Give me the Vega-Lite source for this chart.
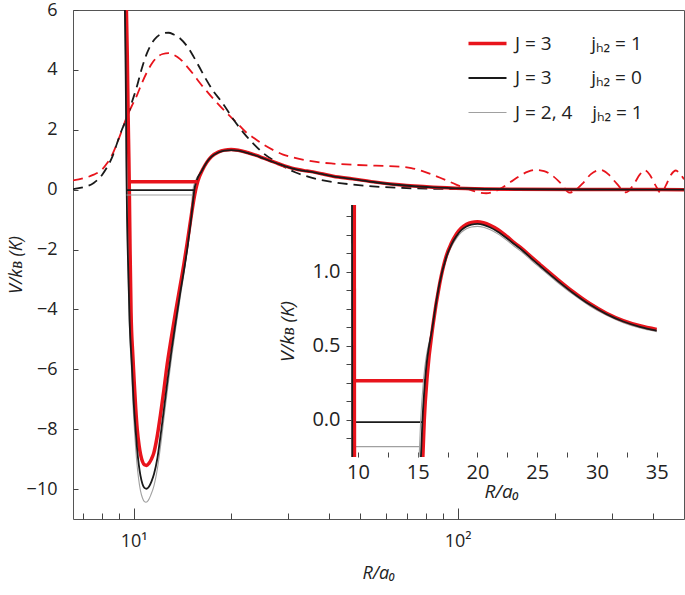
{
"$schema": "https://vega.github.io/schema/vega-lite/v6.json",
"width": 611, "height": 509,
"autosize": {"type": "none"},
"padding": {"left": 73, "top": 10, "right": 1, "bottom": 76},
"background": "white",
"config": {
  "view": {"stroke": "#555", "strokeWidth": 1},
  "font": "Open Sans",
  "axis": {"labelFont": "Open Sans", "titleFont": "Open Sans", "labelColor": "#222", "titleColor": "#222", "tickColor": "#444", "grid": false, "labelFontSize": 18, "titleFontSize": 18, "titleFontWeight": "normal", "titleFontStyle": "italic", "labelFlush": false, "labelOverlap": false, "domain": false}
},
"datasets": {
  "dash": [
    {"c":"a","R":6.5,"V":0.31},{"c":"a","R":7.0,"V":0.38},{"c":"a","R":7.53,"V":0.5},{"c":"a","R":8.0,"V":0.68},{"c":"a","R":8.28,"V":0.88},{"c":"a","R":8.6,"V":1.18},{"c":"a","R":8.89,"V":1.55},{"c":"a","R":9.2,"V":1.98},{"c":"a","R":9.54,"V":2.45},{"c":"a","R":9.9,"V":2.82},{"c":"a","R":10.24,"V":3.15},{"c":"a","R":10.6,"V":3.55},{"c":"a","R":10.99,"V":3.92},{"c":"a","R":11.4,"V":4.22},{"c":"a","R":11.8,"V":4.42},{"c":"a","R":12.3,"V":4.53},{"c":"a","R":12.82,"V":4.56},{"c":"a","R":13.3,"V":4.5},{"c":"a","R":13.92,"V":4.36},{"c":"a","R":14.6,"V":4.12},{"c":"a","R":15.3,"V":3.85},{"c":"a","R":16.0,"V":3.57},{"c":"a","R":16.81,"V":3.29},{"c":"a","R":17.6,"V":3.04},{"c":"a","R":18.49,"V":2.79},{"c":"a","R":19.4,"V":2.56},{"c":"a","R":20.31,"V":2.35},{"c":"a","R":21.3,"V":2.12},{"c":"a","R":22.32,"V":1.9},{"c":"a","R":23.7,"V":1.7},{"c":"a","R":25.12,"V":1.51},{"c":"a","R":27.0,"V":1.32},{"c":"a","R":28.94,"V":1.17},{"c":"a","R":31.5,"V":1.06},{"c":"a","R":34.14,"V":0.98},{"c":"a","R":37.5,"V":0.91},{"c":"a","R":41.25,"V":0.87},{"c":"a","R":47.5,"V":0.83},{"c":"a","R":56,"V":0.8},{"c":"a","R":66.3,"V":0.77},{"c":"a","R":72,"V":0.72},{"c":"a","R":78,"V":0.62},{"c":"a","R":85,"V":0.47},{"c":"a","R":92,"V":0.32},{"c":"a","R":99,"V":0.17},{"c":"a","R":106,"V":0.05},{"c":"a","R":114,"V":-0.07},{"c":"a","R":122.6,"V":-0.12},{"c":"a","R":130,"V":-0.06},{"c":"a","R":138,"V":0.08},{"c":"a","R":146,"V":0.26},{"c":"a","R":155,"V":0.45},{"c":"a","R":165,"V":0.6},{"c":"a","R":175,"V":0.66},{"c":"a","R":185,"V":0.62},{"c":"a","R":196,"V":0.47},{"c":"a","R":208,"V":0.22},{"c":"a","R":221.6,"V":-0.1},{"c":"a","R":232,"V":0.0},{"c":"a","R":244,"V":0.22},{"c":"a","R":258,"V":0.52},{"c":"a","R":277,"V":0.66},{"c":"a","R":293,"V":0.5},{"c":"a","R":310,"V":0.2},{"c":"a","R":331,"V":-0.09},{"c":"a","R":350,"V":0.18},{"c":"a","R":365,"V":0.5},{"c":"a","R":378,"V":0.65},{"c":"a","R":392,"V":0.5},{"c":"a","R":408,"V":0.15},{"c":"a","R":424.6,"V":-0.12},{"c":"a","R":440,"V":0.15},{"c":"a","R":456,"V":0.5},{"c":"a","R":472,"V":0.64},{"c":"a","R":488,"V":0.5},{"c":"a","R":500,"V":0.35},
    {"c":"b","R":6.5,"V":0.02},{"c":"b","R":7.0,"V":0.08},{"c":"b","R":7.53,"V":0.22},{"c":"b","R":8.0,"V":0.5},{"c":"b","R":8.28,"V":0.75},{"c":"b","R":8.6,"V":1.1},{"c":"b","R":8.89,"V":1.55},{"c":"b","R":9.2,"V":2.0},{"c":"b","R":9.54,"V":2.4},{"c":"b","R":9.9,"V":2.95},{"c":"b","R":10.24,"V":3.45},{"c":"b","R":10.6,"V":4.05},{"c":"b","R":10.99,"V":4.55},{"c":"b","R":11.4,"V":4.9},{"c":"b","R":11.8,"V":5.1},{"c":"b","R":12.3,"V":5.22},{"c":"b","R":12.82,"V":5.24},{"c":"b","R":13.3,"V":5.18},{"c":"b","R":13.92,"V":5.05},{"c":"b","R":14.6,"V":4.8},{"c":"b","R":15.3,"V":4.45},{"c":"b","R":16.0,"V":4.07},{"c":"b","R":16.81,"V":3.65},{"c":"b","R":17.6,"V":3.3},{"c":"b","R":18.49,"V":3.0},{"c":"b","R":19.4,"V":2.68},{"c":"b","R":20.31,"V":2.35},{"c":"b","R":21.3,"V":2.05},{"c":"b","R":22.32,"V":1.78},{"c":"b","R":23.7,"V":1.48},{"c":"b","R":25.12,"V":1.22},{"c":"b","R":27.0,"V":0.98},{"c":"b","R":28.94,"V":0.78},{"c":"b","R":31.5,"V":0.58},{"c":"b","R":34.14,"V":0.45},{"c":"b","R":37.5,"V":0.33},{"c":"b","R":41.25,"V":0.25},{"c":"b","R":47.5,"V":0.17},{"c":"b","R":56,"V":0.1},{"c":"b","R":66.3,"V":0.06},{"c":"b","R":80,"V":0.035},{"c":"b","R":94.6,"V":0.02},{"c":"b","R":130,"V":0.01},{"c":"b","R":200,"V":0.005},{"c":"b","R":500,"V":0.0}
  ],
  "sol": [
    {"c":"a","R":9.44,"V":7.0},{"c":"a","R":9.5,"V":6.0},{"c":"a","R":9.56,"V":4.5},{"c":"a","R":9.62,"V":2.4},{"c":"a","R":9.67,"V":1.0},{"c":"a","R":9.7,"V":0.0},{"c":"a","R":9.75,"V":-2.0},{"c":"a","R":9.82,"V":-4.1},{"c":"a","R":9.94,"V":-5.5},{"c":"a","R":10.04,"V":-6.4},{"c":"a","R":10.15,"V":-7.3},{"c":"a","R":10.26,"V":-8.0},{"c":"a","R":10.4,"V":-8.55},{"c":"a","R":10.51,"V":-8.85},{"c":"a","R":10.65,"V":-9.08},{"c":"a","R":10.8,"V":-9.19},{"c":"a","R":10.96,"V":-9.21},{"c":"a","R":11.15,"V":-9.14},{"c":"a","R":11.35,"V":-9.0},{"c":"a","R":11.54,"V":-8.8},{"c":"a","R":11.8,"V":-8.3},{"c":"a","R":12.11,"V":-7.5},{"c":"a","R":12.4,"V":-6.7},{"c":"a","R":12.69,"V":-5.85},{"c":"a","R":13.05,"V":-5.0},{"c":"a","R":13.47,"V":-4.1},{"c":"a","R":13.9,"V":-3.25},{"c":"a","R":14.29,"V":-2.5},{"c":"a","R":14.65,"V":-1.75},{"c":"a","R":14.98,"V":-1.05},{"c":"a","R":15.25,"V":-0.5},{"c":"a","R":15.55,"V":0.0},{"c":"a","R":15.8,"V":0.3},{"c":"a","R":16.28,"V":0.64},{"c":"a","R":16.84,"V":0.92},{"c":"a","R":17.4,"V":1.11},{"c":"a","R":18.24,"V":1.255},{"c":"a","R":19.08,"V":1.32},{"c":"a","R":20.0,"V":1.337},{"c":"a","R":21.03,"V":1.315},{"c":"a","R":22.43,"V":1.24},{"c":"a","R":23.82,"V":1.15},{"c":"a","R":25.22,"V":1.05},{"c":"a","R":26.61,"V":0.955},{"c":"a","R":28.0,"V":0.865},{"c":"a","R":29.4,"V":0.785},{"c":"a","R":30.8,"V":0.72},{"c":"a","R":32.2,"V":0.67},{"c":"a","R":33.6,"V":0.635},{"c":"a","R":35.0,"V":0.61},{"c":"a","R":38,"V":0.53},{"c":"a","R":41.3,"V":0.45},{"c":"a","R":47.5,"V":0.36},{"c":"a","R":55,"V":0.26},{"c":"a","R":66,"V":0.16},{"c":"a","R":84,"V":0.08},{"c":"a","R":106,"V":0.04},{"c":"a","R":150,"V":0.015},{"c":"a","R":250,"V":0.005},{"c":"a","R":500,"V":0.0},
    {"c":"b","R":9.36,"V":7.0},{"c":"b","R":9.4,"V":6.0},{"c":"b","R":9.44,"V":4.5},{"c":"b","R":9.48,"V":2.4},{"c":"b","R":9.5,"V":1.0},{"c":"b","R":9.52,"V":0.0},{"c":"b","R":9.6,"V":-2.2},{"c":"b","R":9.72,"V":-4.4},{"c":"b","R":9.88,"V":-5.9},{"c":"b","R":9.98,"V":-6.9},{"c":"b","R":10.12,"V":-7.9},{"c":"b","R":10.24,"V":-8.6},{"c":"b","R":10.38,"V":-9.2},{"c":"b","R":10.5,"V":-9.55},{"c":"b","R":10.65,"V":-9.83},{"c":"b","R":10.8,"V":-9.96},{"c":"b","R":10.96,"V":-9.99},{"c":"b","R":11.15,"V":-9.92},{"c":"b","R":11.35,"V":-9.75},{"c":"b","R":11.56,"V":-9.5},{"c":"b","R":11.85,"V":-8.95},{"c":"b","R":12.15,"V":-8.1},{"c":"b","R":12.45,"V":-7.2},{"c":"b","R":12.75,"V":-6.3},{"c":"b","R":13.1,"V":-5.35},{"c":"b","R":13.5,"V":-4.4},{"c":"b","R":13.95,"V":-3.4},{"c":"b","R":14.35,"V":-2.6},{"c":"b","R":14.7,"V":-1.85},{"c":"b","R":15.0,"V":-1.1},{"c":"b","R":15.2,"V":-0.55},{"c":"b","R":15.4,"V":0.0},{"c":"b","R":15.65,"V":0.3},{"c":"b","R":16.22,"V":0.62},{"c":"b","R":16.8,"V":0.91},{"c":"b","R":17.4,"V":1.1},{"c":"b","R":18.24,"V":1.24},{"c":"b","R":19.08,"V":1.305},{"c":"b","R":20.0,"V":1.322},{"c":"b","R":21.03,"V":1.3},{"c":"b","R":22.43,"V":1.228},{"c":"b","R":23.82,"V":1.14},{"c":"b","R":25.22,"V":1.04},{"c":"b","R":26.61,"V":0.945},{"c":"b","R":28.0,"V":0.857},{"c":"b","R":29.4,"V":0.778},{"c":"b","R":30.8,"V":0.714},{"c":"b","R":32.2,"V":0.664},{"c":"b","R":33.6,"V":0.628},{"c":"b","R":35.0,"V":0.603},{"c":"b","R":38,"V":0.523},{"c":"b","R":41.3,"V":0.445},{"c":"b","R":47.5,"V":0.355},{"c":"b","R":55,"V":0.255},{"c":"b","R":66,"V":0.155},{"c":"b","R":84,"V":0.078},{"c":"b","R":106,"V":0.038},{"c":"b","R":150,"V":0.014},{"c":"b","R":250,"V":0.005},{"c":"b","R":500,"V":0.0},
    {"c":"c","R":9.35,"V":7.0},{"c":"c","R":9.39,"V":6.0},{"c":"c","R":9.43,"V":4.5},{"c":"c","R":9.47,"V":2.4},{"c":"c","R":9.49,"V":1.0},{"c":"c","R":9.51,"V":0.0},{"c":"c","R":9.59,"V":-2.3},{"c":"c","R":9.71,"V":-4.6},{"c":"c","R":9.86,"V":-6.1},{"c":"c","R":9.96,"V":-7.2},{"c":"c","R":10.1,"V":-8.3},{"c":"c","R":10.22,"V":-9.05},{"c":"c","R":10.36,"V":-9.65},{"c":"c","R":10.5,"V":-10.05},{"c":"c","R":10.65,"V":-10.3},{"c":"c","R":10.8,"V":-10.42},{"c":"c","R":10.92,"V":-10.44},{"c":"c","R":11.1,"V":-10.38},{"c":"c","R":11.3,"V":-10.2},{"c":"c","R":11.55,"V":-9.9},{"c":"c","R":11.85,"V":-9.3},{"c":"c","R":12.15,"V":-8.45},{"c":"c","R":12.45,"V":-7.5},{"c":"c","R":12.75,"V":-6.6},{"c":"c","R":13.1,"V":-5.6},{"c":"c","R":13.5,"V":-4.6},{"c":"c","R":13.95,"V":-3.55},{"c":"c","R":14.35,"V":-2.7},{"c":"c","R":14.65,"V":-1.95},{"c":"c","R":14.9,"V":-1.2},{"c":"c","R":15.08,"V":-0.6},{"c":"c","R":15.25,"V":0.0},{"c":"c","R":15.5,"V":0.28},{"c":"c","R":16.15,"V":0.6},{"c":"c","R":16.76,"V":0.89},{"c":"c","R":17.4,"V":1.085},{"c":"c","R":18.24,"V":1.225},{"c":"c","R":19.08,"V":1.29},{"c":"c","R":20.0,"V":1.306},{"c":"c","R":21.03,"V":1.285},{"c":"c","R":22.43,"V":1.213},{"c":"c","R":23.82,"V":1.126},{"c":"c","R":25.22,"V":1.028},{"c":"c","R":26.61,"V":0.934},{"c":"c","R":28.0,"V":0.847},{"c":"c","R":29.4,"V":0.769},{"c":"c","R":30.8,"V":0.706},{"c":"c","R":32.2,"V":0.656},{"c":"c","R":33.6,"V":0.62},{"c":"c","R":35.0,"V":0.596},{"c":"c","R":38,"V":0.515},{"c":"c","R":41.3,"V":0.44},{"c":"c","R":47.5,"V":0.35},{"c":"c","R":55,"V":0.25},{"c":"c","R":66,"V":0.15},{"c":"c","R":84,"V":0.075},{"c":"c","R":106,"V":0.036},{"c":"c","R":150,"V":0.013},{"c":"c","R":250,"V":0.005},{"c":"c","R":500,"V":0.0}
  ],
  "lev": [
    {"c":"a","R1":9.72,"R2":15.77,"V":0.265},
    {"c":"b","R1":9.52,"R2":15.39,"V":-0.015},
    {"c":"c","R1":9.51,"R2":15.19,"V":-0.18}
  ],
  "ins": [
    {"c":"a","s":1,"R":9.695,"V":1.45},{"c":"a","s":1,"R":9.705,"V":-0.25},
    {"c":"a","s":2,"R":15.43,"V":-0.25},{"c":"a","s":2,"R":15.55,"V":0.0},{"c":"a","s":2,"R":15.8,"V":0.3},{"c":"a","s":2,"R":16.28,"V":0.64},{"c":"a","s":2,"R":16.84,"V":0.92},{"c":"a","s":2,"R":17.4,"V":1.11},{"c":"a","s":2,"R":17.8,"V":1.19},{"c":"a","s":2,"R":18.24,"V":1.255},{"c":"a","s":2,"R":18.65,"V":1.295},{"c":"a","s":2,"R":19.08,"V":1.32},{"c":"a","s":2,"R":19.5,"V":1.333},{"c":"a","s":2,"R":20.0,"V":1.337},{"c":"a","s":2,"R":20.5,"V":1.33},{"c":"a","s":2,"R":21.03,"V":1.315},{"c":"a","s":2,"R":21.7,"V":1.285},{"c":"a","s":2,"R":22.43,"V":1.24},{"c":"a","s":2,"R":23.1,"V":1.195},{"c":"a","s":2,"R":23.82,"V":1.15},{"c":"a","s":2,"R":24.5,"V":1.1},{"c":"a","s":2,"R":25.22,"V":1.05},{"c":"a","s":2,"R":26.61,"V":0.955},{"c":"a","s":2,"R":28.0,"V":0.865},{"c":"a","s":2,"R":29.4,"V":0.785},{"c":"a","s":2,"R":30.8,"V":0.72},{"c":"a","s":2,"R":32.2,"V":0.67},{"c":"a","s":2,"R":33.6,"V":0.635},{"c":"a","s":2,"R":35.0,"V":0.61},
    {"c":"b","s":1,"R":9.505,"V":1.45},{"c":"b","s":1,"R":9.52,"V":-0.25},
    {"c":"b","s":2,"R":15.27,"V":-0.25},{"c":"b","s":2,"R":15.4,"V":0.0},{"c":"b","s":2,"R":15.65,"V":0.3},{"c":"b","s":2,"R":16.22,"V":0.62},{"c":"b","s":2,"R":16.8,"V":0.91},{"c":"b","s":2,"R":17.4,"V":1.1},{"c":"b","s":2,"R":17.8,"V":1.18},{"c":"b","s":2,"R":18.24,"V":1.24},{"c":"b","s":2,"R":18.65,"V":1.28},{"c":"b","s":2,"R":19.08,"V":1.305},{"c":"b","s":2,"R":19.5,"V":1.318},{"c":"b","s":2,"R":20.0,"V":1.322},{"c":"b","s":2,"R":20.5,"V":1.316},{"c":"b","s":2,"R":21.03,"V":1.3},{"c":"b","s":2,"R":21.7,"V":1.27},{"c":"b","s":2,"R":22.43,"V":1.228},{"c":"b","s":2,"R":23.1,"V":1.185},{"c":"b","s":2,"R":23.82,"V":1.14},{"c":"b","s":2,"R":24.5,"V":1.09},{"c":"b","s":2,"R":25.22,"V":1.04},{"c":"b","s":2,"R":26.61,"V":0.945},{"c":"b","s":2,"R":28.0,"V":0.857},{"c":"b","s":2,"R":29.4,"V":0.778},{"c":"b","s":2,"R":30.8,"V":0.714},{"c":"b","s":2,"R":32.2,"V":0.664},{"c":"b","s":2,"R":33.6,"V":0.628},{"c":"b","s":2,"R":35.0,"V":0.603},
    {"c":"c","s":1,"R":9.5,"V":1.45},{"c":"c","s":1,"R":9.51,"V":-0.25},
    {"c":"c","s":2,"R":15.12,"V":-0.25},{"c":"c","s":2,"R":15.25,"V":0.0},{"c":"c","s":2,"R":15.5,"V":0.28},{"c":"c","s":2,"R":16.15,"V":0.6},{"c":"c","s":2,"R":16.76,"V":0.89},{"c":"c","s":2,"R":17.4,"V":1.085},{"c":"c","s":2,"R":17.8,"V":1.165},{"c":"c","s":2,"R":18.24,"V":1.225},{"c":"c","s":2,"R":18.65,"V":1.265},{"c":"c","s":2,"R":19.08,"V":1.29},{"c":"c","s":2,"R":19.5,"V":1.302},{"c":"c","s":2,"R":20.0,"V":1.306},{"c":"c","s":2,"R":20.5,"V":1.3},{"c":"c","s":2,"R":21.03,"V":1.285},{"c":"c","s":2,"R":21.7,"V":1.255},{"c":"c","s":2,"R":22.43,"V":1.213},{"c":"c","s":2,"R":23.1,"V":1.17},{"c":"c","s":2,"R":23.82,"V":1.126},{"c":"c","s":2,"R":24.5,"V":1.077},{"c":"c","s":2,"R":25.22,"V":1.028},{"c":"c","s":2,"R":26.61,"V":0.934},{"c":"c","s":2,"R":28.0,"V":0.847},{"c":"c","s":2,"R":29.4,"V":0.769},{"c":"c","s":2,"R":30.8,"V":0.706},{"c":"c","s":2,"R":32.2,"V":0.656},{"c":"c","s":2,"R":33.6,"V":0.62},{"c":"c","s":2,"R":35.0,"V":0.596}
  ]
},
"layer": [
  {
    "layer": [
      {
        "layer": [
          {"mark": {"type": "rule", "color": "#b0b0b0", "strokeDash": [2, 3], "strokeWidth": 1},
           "encoding": {"y": {"datum": 0, "type": "quantitative"}}},
          {"data": {"name": "dash"},
           "transform": [{"filter": "datum.c == 'a'"}],
           "mark": {"type": "line", "color": "#e8141c", "strokeWidth": 1.8, "strokeDash": [10, 6], "interpolate": "monotone", "clip": true},
           "encoding": {
             "x": {"field": "R", "type": "quantitative",
                   "scale": {"type": "log", "domain": [6.5, 500], "nice": false},
                   "axis": {"orient": "bottom", "values": [10, 100], "labelExpr": "datum.value == 10 ? '10¹' : '10²'", "tickSize": -11, "labelPadding": 24, "title": "R/a₀", "titlePadding": 14}},
             "y": {"field": "V", "type": "quantitative",
                   "scale": {"domain": [-11, 6], "nice": false, "zero": false},
                   "axis": {"values": [-10, -8, -6, -4, -2, 0, 2, 4, 6], "tickSize": -5, "labelPadding": 21, "title": "V/kʙ (K)", "titlePadding": 1}}
           }},
          {"data": {"name": "dash"},
           "transform": [{"filter": "datum.c == 'b'"}],
           "mark": {"type": "line", "color": "#1a1a1a", "strokeWidth": 1.8, "strokeDash": [10, 6], "interpolate": "monotone", "clip": true},
           "encoding": {"x": {"field": "R", "type": "quantitative"}, "y": {"field": "V", "type": "quantitative"}}},
          {"data": {"name": "sol"},
           "transform": [{"filter": "datum.c == 'c'"}],
           "mark": {"type": "line", "interpolate": "monotone", "clip": true, "strokeWidth": 1.1},
           "encoding": {"x": {"field": "R", "type": "quantitative"}, "y": {"field": "V", "type": "quantitative"},
             "color": {"field": "c", "type": "nominal", "scale": {"domain": ["a", "b", "c"], "range": ["#e8141c", "#1a1a1a", "#a0a0a0"]},
                       "legend": {"orient": "none", "legendX": 405, "legendY": 24, "symbolType": "stroke", "symbolSize": 1444, "labelFontSize": 19, "labelFont": "Open Sans", "labelColor": "#222", "rowPadding": 14.5, "labelOffset": 18, "padding": 0, "title": null, "labelLimit": 400,
                                  "labelExpr": "datum.value == 'a' ? 'J = 3\u00a0\u00a0\u00a0\u00a0\u00a0\u00a0\u00a0\u00a0jₕ₂ = 1' : datum.value == 'b' ? 'J = 3\u00a0\u00a0\u00a0\u00a0\u00a0\u00a0\u00a0\u00a0jₕ₂ = 0' : 'J = 2, 4\u00a0\u00a0\u00a0\u00a0jₕ₂ = 1'",
                                  "encode": {"symbols": {"update": {"strokeWidth": {"signal": "datum.value == 'a' ? 3.5 : datum.value == 'b' ? 1.8 : 1.1"}}}}}}}},
          {"data": {"name": "sol"},
           "transform": [{"filter": "datum.c == 'a'"}],
           "mark": {"type": "line", "interpolate": "monotone", "clip": true, "strokeWidth": 3.5},
           "encoding": {"x": {"field": "R", "type": "quantitative"}, "y": {"field": "V", "type": "quantitative"},
             "color": {"field": "c", "type": "nominal"}}},
          {"data": {"name": "sol"},
           "transform": [{"filter": "datum.c == 'b'"}],
           "mark": {"type": "line", "interpolate": "monotone", "clip": true, "strokeWidth": 1.8},
           "encoding": {"x": {"field": "R", "type": "quantitative"}, "y": {"field": "V", "type": "quantitative"},
             "color": {"field": "c", "type": "nominal"}}},
          {"data": {"name": "lev"}, "transform": [{"filter": "datum.c == 'c'"}],
           "mark": {"type": "rule", "color": "#a0a0a0", "strokeWidth": 1.1},
           "encoding": {"x": {"field": "R1", "type": "quantitative"}, "x2": {"field": "R2"}, "y": {"field": "V", "type": "quantitative"}}},
          {"data": {"name": "lev"}, "transform": [{"filter": "datum.c == 'b'"}],
           "mark": {"type": "rule", "color": "#1a1a1a", "strokeWidth": 1.8},
           "encoding": {"x": {"field": "R1", "type": "quantitative"}, "x2": {"field": "R2"}, "y": {"field": "V", "type": "quantitative"}}},
          {"data": {"name": "lev"}, "transform": [{"filter": "datum.c == 'a'"}],
           "mark": {"type": "rule", "color": "#e8141c", "strokeWidth": 3.5},
           "encoding": {"x": {"field": "R1", "type": "quantitative"}, "x2": {"field": "R2"}, "y": {"field": "V", "type": "quantitative"}}}
        ]
      },
      {"mark": {"type": "rule", "opacity": 0},
       "encoding": {"x": {"datum": 10, "type": "quantitative", "scale": {"type": "log", "domain": [6.5, 500], "nice": false},
         "axis": {"orient": "bottom", "values": [7, 8, 9, 20, 30, 40, 50, 60, 70, 80, 90, 200, 300, 400], "labels": false, "tickSize": -6, "title": null}}}}
    ],
    "resolve": {"axis": {"x": "independent"}}
  },
  {
    "layer": [
      {"mark": {"type": "rect", "fill": "white", "stroke": "#555", "strokeWidth": 1},
       "encoding": {
         "x": {"datum": 9, "type": "quantitative", "scale": {"domain": [9, 35], "range": [273, 583.7], "nice": false, "zero": false},
               "axis": {"orient": "bottom", "offset": -62, "values": [10, 11.25, 12.5, 13.75, 15, 16.25, 17.5, 18.75, 20, 21.25, 22.5, 23.75, 25, 26.25, 27.5, 28.75, 30, 31.25, 32.5, 33.75, 35],
                        "labelExpr": "datum.value % 5 == 0 ? format(datum.value, 'd') : ''", "tickSize": -5, "labelPadding": 10, "labelFontSize": 20, "titleFontSize": 19, "title": "R/a₀", "titlePadding": 0}},
         "x2": {"datum": 35},
         "y": {"datum": -0.25, "type": "quantitative", "scale": {"domain": [-0.25, 1.45], "range": [447, 195], "nice": false, "zero": false},
               "axis": {"orient": "left", "offset": -273, "values": [-0.125, 0, 0.125, 0.25, 0.375, 0.5, 0.625, 0.75, 0.875, 1, 1.125, 1.25, 1.375],
                        "labelExpr": "abs(datum.value * 2 - round(datum.value * 2)) < 0.001 ? format(datum.value, '.1f') : ''", "tickSize": -5, "labelPadding": 11, "labelFontSize": 20, "titleFontSize": 19, "title": "V/kʙ (K)", "titlePadding": 14}},
         "y2": {"datum": 1.45}}},
      {"mark": {"type": "rule", "color": "#b0b0b0", "strokeDash": [2, 3], "strokeWidth": 1},
       "encoding": {"x": {"datum": 9, "type": "quantitative"}, "x2": {"datum": 35}, "y": {"datum": 0, "type": "quantitative"}}},
      {"data": {"name": "lev"}, "transform": [{"filter": "datum.c == 'c'"}],
       "mark": {"type": "rule", "color": "#a0a0a0", "strokeWidth": 1.1},
       "encoding": {"x": {"field": "R1", "type": "quantitative"}, "x2": {"field": "R2"}, "y": {"field": "V", "type": "quantitative"}}},
      {"data": {"name": "lev"}, "transform": [{"filter": "datum.c == 'b'"}],
       "mark": {"type": "rule", "color": "#1a1a1a", "strokeWidth": 1.8},
       "encoding": {"x": {"field": "R1", "type": "quantitative"}, "x2": {"field": "R2"}, "y": {"field": "V", "type": "quantitative"}}},
      {"data": {"name": "lev"}, "transform": [{"filter": "datum.c == 'a'"}],
       "mark": {"type": "rule", "color": "#e8141c", "strokeWidth": 3.5},
       "encoding": {"x": {"field": "R1", "type": "quantitative"}, "x2": {"field": "R2"}, "y": {"field": "V", "type": "quantitative"}}},
      {"data": {"name": "ins"}, "transform": [{"filter": "datum.c == 'c'"}],
       "mark": {"type": "line", "color": "#a0a0a0", "strokeWidth": 1.1, "interpolate": "monotone"},
       "encoding": {"x": {"field": "R", "type": "quantitative"}, "y": {"field": "V", "type": "quantitative"}, "detail": {"field": "s"}}},
      {"data": {"name": "ins"}, "transform": [{"filter": "datum.c == 'a'"}],
       "mark": {"type": "line", "color": "#e8141c", "strokeWidth": 3.5, "interpolate": "monotone"},
       "encoding": {"x": {"field": "R", "type": "quantitative"}, "y": {"field": "V", "type": "quantitative"}, "detail": {"field": "s"}}},
      {"data": {"name": "ins"}, "transform": [{"filter": "datum.c == 'b'"}],
       "mark": {"type": "line", "color": "#1a1a1a", "strokeWidth": 1.8, "interpolate": "monotone"},
       "encoding": {"x": {"field": "R", "type": "quantitative"}, "y": {"field": "V", "type": "quantitative"}, "detail": {"field": "s"}}}
    ]
  }
],
"resolve": {"scale": {"x": "independent", "y": "independent"}, "axis": {"x": "independent", "y": "independent"}}
}
